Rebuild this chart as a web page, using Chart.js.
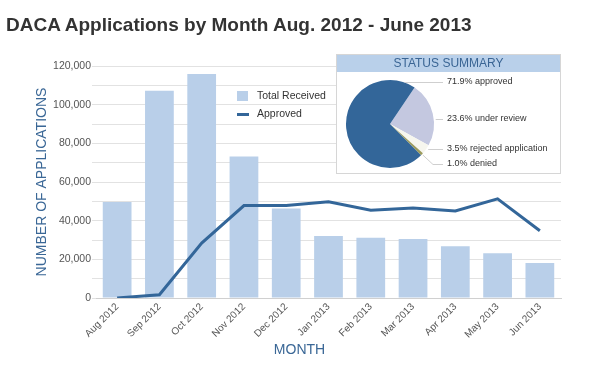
<!DOCTYPE html>
<html>
<head>
<meta charset="utf-8">
<script src="https://cdn.jsdelivr.net/npm/chart.js@4.4.0/dist/chart.umd.min.js"></script>
<style>
  body { margin: 0; background: #fff; font-family: "Liberation Sans", Arial, sans-serif; }
  #wrap { position: relative; width: 599px; height: 375px; overflow: hidden; }
  #main { position: absolute; left: 0; top: 0; }
  .title { position: absolute; left: 6px; top: 14px; font-size: 19px; font-weight: bold; color: #333; white-space: nowrap; }
  .xtitle { position: absolute; left: 0; width: 599px; top: 341px; text-align: center; font-size: 14px; color: #3a6796; }
  .legend { position: absolute; left: 237px; top: 87px; font-size: 10.5px; color: #333; }
  .legend div { height: 18px; position: relative; padding-left: 20px; line-height: 16px; }
  .sw { position: absolute; left: 0; top: 4px; width: 11px; height: 10px; background: #b9cfe9; }
  .ln { position: absolute; left: 0; top: 8px; width: 12px; height: 3px; background: #336699; }
  #box { position: absolute; left: 336px; top: 54px; width: 225px; height: 120px; border: 1px solid #d6d6d6; background: #fff; box-sizing: border-box; }
  #box .hd { height: 17px; background: #b9d0ea; color: #3a6594; font-size: 12px; text-align: center; line-height: 17px; }
  #pie { position: absolute; left: 0; top: 17px; }
</style>
</head>
<body>
<div id="wrap">
  <canvas id="main" width="599" height="375"></canvas>
  <div class="title">DACA Applications by Month Aug. 2012 - June 2013</div>
  <div class="xtitle">MONTH</div>
  <div class="legend">
    <div><span class="sw"></span>Total Received</div>
    <div><span class="ln"></span>Approved</div>
  </div>
  <div id="box">
    <div class="hd">STATUS SUMMARY</div>
    <canvas id="pie" width="223" height="102"></canvas>
  </div>
</div>
<script>
const months = ["Aug 2012", "Sep 2012", "Oct 2012", "Nov 2012", "Dec 2012", "Jan 2013",
  "Feb 2013", "Mar 2013", "Apr 2013", "May 2013", "Jun 2013"];
const totalReceived = [49700, 107200, 115900, 73200, 46300, 32100, 31200, 30500, 26800, 23200, 18100];
const approved = [0, 1700, 28400, 47800, 47800, 49800, 45400, 46600, 45000, 51300, 34800];

const statusLabels = ["23.6% under review", "3.5% rejected application", "1.0% denied", "71.9% approved"];
const statusValues = [23.6, 3.5, 1.0, 71.9];
const statusColors = ["#c4c8e0", "#f6f6ee", "#9c9b5c", "#336699"];
// label rows (y inside pie canvas)
const statusLabelY = [47, 77, 92, 10];

new Chart(document.getElementById("main"), {
  data: {
    labels: months,
    datasets: [
      {
        type: "line",
        label: "Approved",
        data: approved,
        borderColor: "#336699",
        borderWidth: 3,
        pointRadius: 0,
        tension: 0,
        order: 0,
      },
      {
        type: "bar",
        label: "Total Received",
        data: totalReceived,
        backgroundColor: "#b9cfe9",
        categoryPercentage: 1,
        barPercentage: 0.68,
        order: 1,
      },
    ],
  },
  options: {
    responsive: false,
    animation: false,
    layout: { padding: { top: 66, right: 38, left: 0, bottom: 0 } },
    plugins: { legend: { display: false }, tooltip: { enabled: false } },
    scales: {
      x: {
        grid: { display: false, drawTicks: false },
        border: { display: true, color: "#d0d0d0" },
        ticks: {
          maxRotation: 45, minRotation: 45, padding: 3,
          color: "#555", font: { family: "Liberation Sans", size: 10 },
        },
        afterFit: s => { s.height = 77; },
      },
      y: {
        min: 0, max: 120000,
        border: { display: false },
        grid: { color: "#e2e2e2", tickLength: 4 },
        ticks: {
          stepSize: 10000, padding: 1,
          color: "#555", font: { family: "Liberation Sans", size: 10.5 },
          callback: v => (v % 20000 === 0 ? v.toLocaleString("en-US") : ""),
        },
        title: {
          display: true, text: "NUMBER OF APPLICATIONS",
          color: "#3a6796", font: { family: "Liberation Sans", size: 14 },
          padding: { top: 34, bottom: 0 },
        },
        afterFit: s => { s.width = 96; },
      },
    },
  },
});

// leader lines + labels for the pie
const pieLabels = {
  id: "pieLabels",
  afterDraw(chart) {
    const ctx = chart.ctx;
    const arcs = chart.getDatasetMeta(0).data;
    const lx = 110;
    ctx.save();
    ctx.strokeStyle = "#cfcfcf";
    ctx.lineWidth = 1;
    ctx.font = "9px 'Liberation Sans'";
    ctx.fillStyle = "#333";
    ctx.textBaseline = "middle";
    arcs.forEach((arc, i) => {
      const { x, y, outerRadius: r, startAngle: a0, endAngle: a1 } = arc;
      const ly = statusLabelY[i];
      const dy = (ly - y) / r;
      let sx, sy;
      const norm = a => { let t = a; while (t < a0) t += 2 * Math.PI; return t; };
      let ok = false;
      if (Math.abs(dy) < 1) {
        const a = norm(Math.asin(dy));
        if (a <= a1) { ok = true; sx = x + r * Math.cos(a); sy = ly; }
      }
      ctx.beginPath();
      if (ok) {
        ctx.moveTo(sx + 2, sy + 0.5);
      } else {
        const m = (a0 + a1) / 2;
        ctx.moveTo(x + (r + 1) * Math.cos(m), y + (r + 1) * Math.sin(m));
        ctx.lineTo(lx - 14, ly + 0.5);
      }
      ctx.lineTo(lx - 4, ly + 0.5);
      ctx.stroke();
      ctx.fillText(statusLabels[i], lx, ly);
    });
    ctx.restore();
  },
};

new Chart(document.getElementById("pie"), {
  type: "pie",
  data: {
    labels: statusLabels,
    datasets: [{ data: statusValues, backgroundColor: statusColors, borderWidth: 0 }],
  },
  options: {
    responsive: false,
    animation: false,
    rotation: 34,
    layout: { padding: { left: 9, top: 8, right: 126, bottom: 6 } },
    plugins: { legend: { display: false }, tooltip: { enabled: false } },
  },
  plugins: [pieLabels],
});
</script>
</body>
</html>
